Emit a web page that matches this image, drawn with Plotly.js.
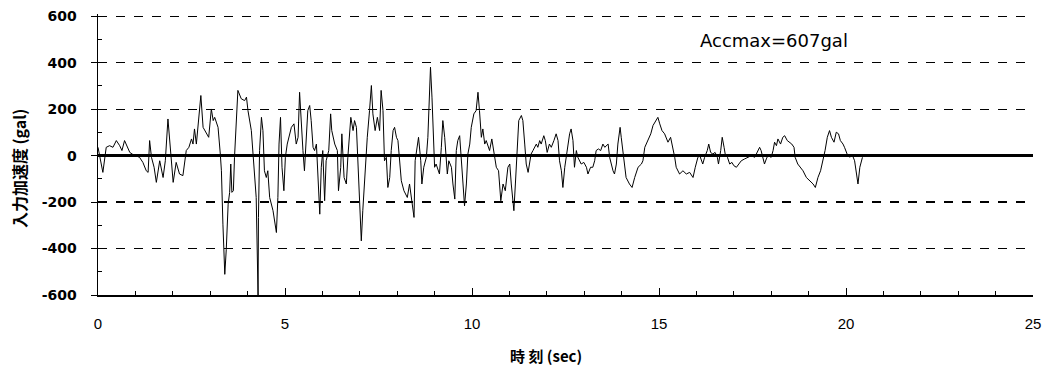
<!DOCTYPE html>
<html>
<head>
<meta charset="utf-8">
<script src="https://cdn.plot.ly/plotly-3.0.1.min.js"></script>
<style>html,body{margin:0;padding:0;background:#fff;}#chart{width:1045px;height:370px;}</style>
</head>
<body>
<div id="chart"></div>
<script>
// time (sec)
var timeSec = [
0.00,0.13,0.22,0.31,0.40,0.49,0.58,0.64,0.71,0.78,0.85,0.94,1.02,1.11,1.20,1.29,1.34,1.38,1.43,1.50,
1.56,1.65,1.74,1.80,1.87,1.93,2.01,2.09,2.18,2.27,2.36,2.43,2.50,2.54,2.58,2.63,2.69,2.75,2.81,2.90,
2.96,3.03,3.08,3.12,3.21,3.27,3.30,3.34,3.39,3.43,3.48,3.52,3.55,3.58,3.62,3.65,3.70,3.74,3.83,3.92,
3.97,4.01,4.10,4.17,4.23,4.28,4.29,4.32,4.37,4.41,4.45,4.50,4.54,4.59,4.68,4.77,4.81,4.84,4.88,4.92,
4.97,5.01,5.06,5.17,5.24,5.30,5.35,5.39,5.44,5.48,5.52,5.57,5.61,5.66,5.70,5.75,5.79,5.84,5.88,5.93,
5.97,6.01,6.06,6.10,6.17,6.22,6.25,6.33,6.40,6.43,6.49,6.52,6.58,6.64,6.68,6.76,6.82,6.86,6.91,6.95,
7.00,7.04,7.08,7.15,7.20,7.26,7.31,7.35,7.41,7.47,7.53,7.57,7.62,7.66,7.71,7.75,7.80,7.84,7.89,7.93,
7.98,8.02,8.06,8.11,8.18,8.27,8.33,8.38,8.45,8.48,8.54,8.57,8.63,8.66,8.71,8.78,8.82,8.86,8.89,8.93,
8.97,9.00,9.04,9.09,9.13,9.18,9.22,9.27,9.29,9.34,9.38,9.45,9.49,9.54,9.58,9.62,9.67,9.71,9.76,9.80,
9.85,9.89,9.94,9.98,10.05,10.11,10.16,10.20,10.25,10.29,10.34,10.38,10.47,10.53,10.59,10.65,10.71,10.77,10.83,10.89,
10.96,11.01,11.05,11.12,11.16,11.21,11.25,11.32,11.36,11.41,11.45,11.50,11.54,11.58,11.63,11.67,11.72,11.76,11.81,11.85,
11.92,11.96,12.01,12.07,12.12,12.19,12.25,12.30,12.34,12.39,12.43,12.48,12.52,12.57,12.61,12.65,12.70,12.74,12.79,12.83,
12.88,12.92,12.99,13.06,13.10,13.17,13.23,13.28,13.32,13.38,13.44,13.50,13.55,13.59,13.64,13.68,13.72,13.77,13.81,13.86,
13.90,13.96,13.99,14.04,14.08,14.12,14.21,14.28,14.35,14.44,14.53,14.57,14.62,14.70,14.78,14.84,14.93,14.97,15.02,15.08,
15.15,15.24,15.31,15.37,15.42,15.46,15.55,15.64,15.73,15.82,15.91,15.97,16.04,16.09,16.13,16.17,16.22,16.29,16.33,16.38,
16.44,16.50,16.56,16.59,16.65,16.69,16.74,16.77,16.83,16.89,16.95,17.00,17.07,17.13,17.20,17.29,17.38,17.47,17.56,17.63,
17.69,17.73,17.78,17.82,17.87,17.91,18.00,18.05,18.09,18.14,18.18,18.25,18.31,18.36,18.43,18.49,18.55,18.61,18.64,18.71,
18.79,18.85,18.94,19.03,19.12,19.18,19.25,19.32,19.38,19.44,19.50,19.56,19.61,19.68,19.74,19.80,19.85,19.92,19.96,20.03,
20.10,20.16,20.23,20.27,20.32,20.37,20.41,20.44
];
// input acceleration (gal)
var accGal = [
36,-72,36,43,36,65,43,22,65,43,14,4,0,-7,-29,-65,-72,65,-7,-50,
-115,-22,-94,-22,158,50,-115,-29,-79,-86,22,36,72,50,115,50,165,259,122,94,
79,201,151,165,122,7,-65,-295,-511,-403,-209,-158,-36,-158,-151,-7,194,281,245,237,
252,194,108,-50,-180,-604,-266,22,165,108,-65,-94,-65,-180,-237,-331,-180,50,165,-50,
-151,-7,50,122,137,50,79,273,108,22,-65,79,194,216,151,36,22,50,-94,-252,
-50,22,-194,-22,22,180,108,50,22,-151,-50,94,-94,-122,-7,165,108,151,122,-50,
-180,-367,-237,-36,79,194,302,180,108,165,108,281,194,-22,-7,-137,-94,22,108,122,
79,65,-7,-108,-151,-180,-122,-180,-266,-22,50,79,-22,-122,-50,-7,79,223,381,252,
79,-50,-36,-65,-79,36,151,79,22,-79,-22,-50,-122,-187,22,65,86,7,-122,-216,
-122,7,50,122,180,194,273,194,79,115,50,65,22,72,7,-50,-65,-194,-122,-151,
-50,-36,-122,-237,-122,7,151,173,151,50,-36,-72,-22,7,22,36,50,36,65,50,
86,65,14,50,36,65,94,65,-22,-65,-137,-50,-7,50,94,115,65,-50,22,-7,
-22,-36,-29,-50,-79,-50,-50,-22,22,29,22,50,36,43,50,-7,-36,-65,-79,-36,
50,122,79,7,-50,-94,-122,-137,-94,-50,-36,-22,36,65,94,130,151,165,137,108,
94,58,79,36,-7,-50,-79,-65,-79,-72,-94,-50,-7,0,-22,-36,-7,22,50,14,
7,14,-7,-36,22,79,36,7,-7,-36,-29,-43,-50,-36,-22,-14,-7,0,-7,14,
36,22,-7,-36,-14,0,-7,22,58,43,72,50,79,86,65,58,50,36,-7,-36,
-50,-65,-94,-108,-122,-137,-94,-65,-22,22,79,108,79,58,101,94,65,50,36,7,
-7,7,-22,-79,-122,-50,-22,-7
];
var yTickVals = [-600,-400,-200,0,200,400,600];
var yTickText = ['-600','-400','-200','0','200','400','600'];
var xTickVals = [0,5,10,15,20,25];
var xTickText = ['0','5','10','15','20','25'];
var noteText = 'Accmax=607gal';
var xTitle = '時 刻 (sec)';
var yTitle = '入力加速度 (gal)';

var trace = {
  x: timeSec, y: accGal, type: 'scatter', mode: 'lines',
  line: {color: '#000', width: 1}, hoverinfo: 'skip'
};

var layout = {
  width: 1045, height: 370,
  margin: {l: 98, r: 12, t: 14, b: 75},
  paper_bgcolor: '#fff', plot_bgcolor: '#fff',
  showlegend: false,
  xaxis: {
    range: [0, 25], tickvals: xTickVals, ticktext: xTickText,
    ticks: 'inside', ticklen: 7, tickcolor: '#000', tickwidth: 1,
    minor: {dtick: 1, ticks: 'inside', ticklen: 4, tickcolor: '#000', showgrid: false},
    showgrid: false, zeroline: false,
    showline: true, linecolor: '#000', linewidth: 1.5,
    tickfont: {family: 'Liberation Sans Narrow, Liberation Sans, Arial', size: 15, color: '#000'},
    ticklabelstandoff: 14
  },
  yaxis: {
    range: [-600, 610], tickvals: yTickVals, ticktext: yTickText,
    ticks: 'outside', ticklen: 6, tickcolor: '#000', tickwidth: 1,
    minor: {dtick: 100, tick0: 0, ticks: 'inside', ticklen: 4, tickcolor: '#000', showgrid: false},
    showgrid: true, gridcolor: '#000', gridwidth: 1.3, griddash: '9px,9px',
    zeroline: true, zerolinecolor: '#000', zerolinewidth: 3,
    showline: true, linecolor: '#000', linewidth: 1.5,
    tickfont: {family: 'DejaVu Sans', size: 14, color: '#000', weight: 'bold'},
    ticklabelstandoff: 11
  },
  annotations: [
    {xref: 'paper', yref: 'paper', x: 0.6417, y: 0.905, xanchor: 'left', yanchor: 'middle',
     text: noteText, showarrow: false,
     font: {family: 'DejaVu Sans', size: 18, color: '#000'}},
    {xref: 'paper', yref: 'paper', x: 0.479, y: -0.215, xanchor: 'center', yanchor: 'middle',
     text: xTitle, showarrow: false,
     font: {family: 'Noto Sans CJK JP', size: 15, color: '#000', weight: 'bold'}},
    {xref: 'paper', yref: 'paper', x: -0.0845, y: 0.4516, xanchor: 'center', yanchor: 'middle',
     text: yTitle, showarrow: false, textangle: -90,
     font: {family: 'Noto Sans CJK JP', size: 16, color: '#000', weight: 'bold'}}
  ]
};

Plotly.newPlot('chart', [trace], layout, {displayModeBar: false, staticPlot: true});
</script>
</body>
</html>
